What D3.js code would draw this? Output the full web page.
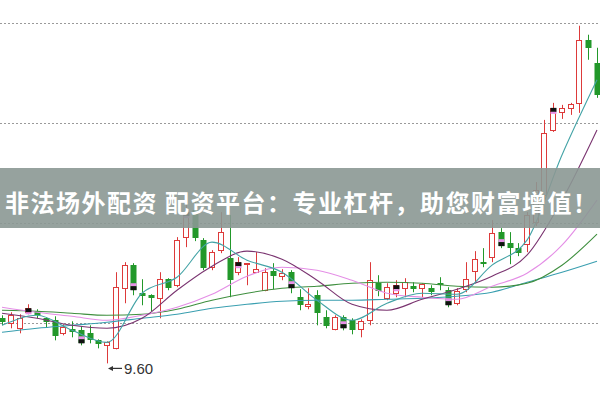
<!DOCTYPE html>
<html><head><meta charset="utf-8">
<script src="https://cdn.jsdelivr.net/npm/d3@7/dist/d3.min.js"></script>
<style>body{margin:0;background:#fff}svg{display:block}</style>
</head><body>
<svg id="c" width="600" height="399"></svg>
<script>
// ---- data ----
const opens  = [10.05,10.00,9.95,10.11,10.12,10.05,10.03,9.90,9.94,9.93,9.90,9.83,9.78,9.75,10.35,10.58,10.30,10.28,10.25,10.44,10.38,10.86,11.13,10.83,10.56,10.73,10.65,10.51,10.59,10.51,10.33,10.52,10.47,10.51,10.26,10.17,10.28,10.06,9.94,10.06,10.03,9.94,10.03,10.40,10.25,10.30,10.35,10.37,10.35,10.35,10.40,10.33,10.20,10.34,10.52,10.61,10.66,10.91,10.80,10.75,10.79,11.01,11.28,11.93,12.11,12.15,12.20,12.83,12.60];
const closes = [10.01,10.08,10.05,10.15,10.08,10.01,9.87,9.96,9.91,9.80,9.83,9.79,9.81,10.36,10.58,10.33,10.27,10.25,10.44,10.35,10.83,11.11,10.85,10.55,10.71,10.91,10.43,10.61,10.60,10.54,10.51,10.47,10.50,10.35,10.18,10.19,10.10,9.97,10.06,9.95,9.93,10.02,10.43,10.32,10.36,10.38,10.41,10.34,10.39,10.31,10.38,10.18,10.32,10.44,10.64,10.59,10.90,10.77,10.75,10.70,11.08,11.33,11.90,12.15,12.15,12.19,12.83,12.75,12.28];
const highs  = [10.08,10.11,10.09,10.19,10.14,10.06,10.07,9.99,10.02,9.97,9.98,9.84,9.82,10.51,10.61,10.60,10.44,10.29,10.51,10.45,10.86,11.18,11.23,10.85,10.73,11.11,11.08,10.66,10.60,10.71,10.55,10.60,10.54,10.53,10.34,10.35,10.33,10.13,10.08,10.08,10.05,10.04,10.61,10.48,10.40,10.43,10.45,10.41,10.40,10.38,10.46,10.36,10.35,10.61,10.72,10.75,11.03,10.95,10.91,10.80,11.11,11.41,12.03,12.20,12.18,12.20,12.97,12.88,12.75];
const lows   = [9.98,9.95,9.90,10.09,10.05,9.96,9.83,9.88,9.86,9.78,9.80,9.75,9.60,9.74,10.20,10.28,10.18,10.12,10.05,10.33,10.36,10.76,10.82,10.53,10.53,10.70,10.26,10.48,10.38,10.51,10.32,10.34,10.43,10.30,10.13,10.14,9.98,9.95,9.93,9.93,9.89,9.86,9.98,10.27,10.23,10.26,10.26,10.31,10.26,10.28,10.33,10.16,10.18,10.31,10.40,10.56,10.61,10.75,10.59,10.67,10.71,10.97,11.23,11.91,12.04,12.08,12.10,12.63,12.25];
const markIdx = [3,9,15,21,27,33,39,45,51,57,63];

// moving-average lines, sampled at these bar indices
const maIdx = [0,4,8,12,16,20,24,28,32,36,40,44,48,52,56,60,64,68];
const ma5  = [9.98,10.08,9.93,9.81,10.30,10.46,10.81,10.63,10.51,10.23,10.03,10.20,10.30,10.29,10.58,10.83,11.68,12.43];
const ma10 = [10.10,10.05,9.98,9.95,10.05,10.33,10.57,10.72,10.64,10.43,10.19,10.13,10.24,10.34,10.47,10.68,11.23,11.93];
const ma20 = [10.16,10.11,10.07,10.03,10.08,10.16,10.29,10.47,10.56,10.53,10.43,10.30,10.26,10.24,10.37,10.50,10.78,11.23];
const ma30 = [10.13,10.12,10.10,10.08,10.09,10.14,10.23,10.30,10.35,10.37,10.40,10.41,10.40,10.37,10.36,10.40,10.58,10.89];
const ma60 = [9.91,9.95,9.98,10.01,10.05,10.09,10.15,10.19,10.22,10.23,10.23,10.24,10.25,10.27,10.31,10.41,10.51,10.62];
const gridVals = [10,11,12,13];
const lowLabel = "9.60";
const bannerText = "非法场外配资 配资平台：专业杠杆，助您财富增值！";

// ---- drawing ----
const svg = d3.select("#c");
const n = opens.length;
const x = d3.scaleLinear().domain([0, n - 1]).range([2, 597]);
const y = d3.scaleLinear().domain([10, 13]).range([323.3, 22.7]);
const RED = "#dd3a3a", GREEN = "#22982a";

// dotted grid
svg.append("g").selectAll("line").data(gridVals).join("line")
  .attr("x1", 0).attr("x2", 600)
  .attr("y1", d => Math.round(y(d)) + 0.5).attr("y2", d => Math.round(y(d)) + 0.5)
  .attr("stroke", "#9a9a9a").attr("stroke-width", 1).attr("stroke-dasharray", "2,2");

const bars = d3.range(n).map(i => ({i, o: opens[i], c: closes[i], h: highs[i], l: lows[i]}));
const gC = svg.append("g");
const bw = 6;
bars.forEach(b => {
  const up = b.c >= b.o;
  const col = up ? RED : GREEN;
  const cx = Math.round(x(b.i)) + 0.5;
  const top = y(Math.max(b.o, b.c)), bot = y(Math.min(b.o, b.c));
  gC.append("line").attr("x1", cx).attr("x2", cx).attr("y1", y(b.h)).attr("y2", y(b.l))
    .attr("stroke", col).attr("stroke-width", 1);
  if (up) {
    gC.append("rect").attr("x", cx - bw / 2).attr("y", Math.round(top) + 0.5)
      .attr("width", bw - 1).attr("height", Math.max(1, Math.round(bot - top)))
      .attr("fill", "#fff").attr("stroke", col).attr("stroke-width", 1);
  } else {
    gC.append("rect").attr("x", cx - bw / 2).attr("y", Math.round(top))
      .attr("width", bw).attr("height", Math.max(1.5, Math.round(bot - top)))
      .attr("fill", col);
  }
});

// MA lines
const line = d3.line().x(d => x(d[0])).y(d => y(d[1])).curve(d3.curveMonotoneX);
const mas = [[ma60, "#3a9fb0"], [ma30, "#3f8f3f"], [ma20, "#e48ee6"], [ma10, "#7a3470"], [ma5, "#43a3a6"]];
mas.forEach(([vals, col]) => {
  svg.append("path").datum(maIdx.map((k, j) => [k, vals[j]]))
    .attr("d", line).attr("fill", "none").attr("stroke", col).attr("stroke-width", 1.1);
});

// small markers at close of every sixth bar
markIdx.forEach(i => {
  const b = bars[i];
  const cx = Math.round(x(i)) + 0.5;
  const up = b.c >= b.o;
  const yc = y(b.c);
  if (up) {
    svg.append("rect").attr("x", cx - 3).attr("y", yc).attr("width", 6).attr("height", 4).attr("fill", "#111");
    svg.append("rect").attr("x", cx - 3).attr("y", yc + 4).attr("width", 6).attr("height", 2).attr("fill", "#e890e8");
  } else {
    svg.append("rect").attr("x", cx - 3).attr("y", yc - 7).attr("width", 6).attr("height", 3).attr("fill", "#e890e8");
    svg.append("rect").attr("x", cx - 3).attr("y", yc - 4).attr("width", 6).attr("height", 4).attr("fill", "#111");
  }
});

// lowest-price annotation
const lowI = lows.indexOf(d3.min(lows));
const ax = x(lowI) + 1, ay = y(lows[lowI]) + 5;
svg.append("line").attr("x1", ax + 3).attr("x2", ax + 14).attr("y1", ay).attr("y2", ay)
  .attr("stroke", "#333").attr("stroke-width", 1.2);
svg.append("path").attr("d", `M${ax},${ay} L${ax + 5},${ay - 2.5} L${ax + 5},${ay + 2.5} Z`).attr("fill", "#333");
svg.append("text").attr("x", ax + 16).attr("y", ay).attr("dominant-baseline", "central")
  .attr("font-family", "Liberation Sans, Arial, sans-serif").attr("font-size", 15).attr("fill", "#333")
  .text(lowLabel);

// banner
svg.append("rect").attr("x", 0).attr("y", 168).attr("width", 600).attr("height", 60)
  .attr("fill", "rgb(139,152,148)").attr("opacity", 0.9);
svg.append("text").attr("x", 5).attr("y", 201).attr("dominant-baseline", "central")
  .attr("font-family", "Noto Sans CJK SC, sans-serif").attr("font-weight", 700).attr("font-size", 24)
  .attr("fill", "#fff").attr("textLength", 592).attr("lengthAdjust", "spacing")
  .text(bannerText);
</script>
</body></html>
